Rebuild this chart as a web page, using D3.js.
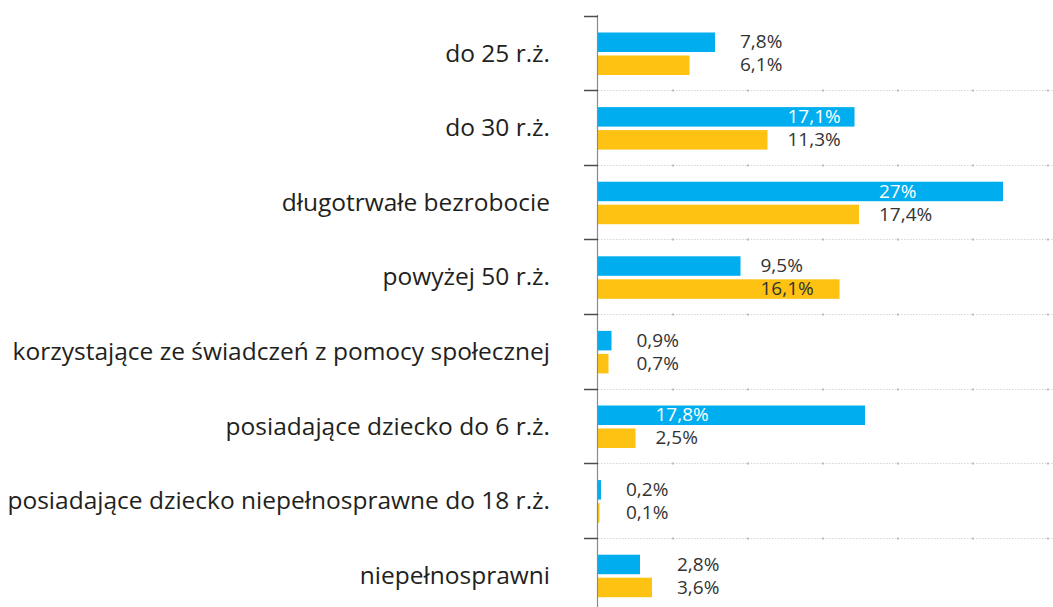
<!DOCTYPE html>
<html lang="pl">
<head>
  <meta charset="UTF-8">
  <title>Grupy bezrobotnych</title>
  <script src="https://d3js.org/d3.v7.min.js"></script>
  <style>
    body { margin: 0; background: #fff; }
    .cat text { font-family: "Open Sans", sans-serif; font-size: 24.5px; fill: #231f20; }
    .val { font-family: "Open Sans", sans-serif; font-size: 19px; }
  </style>
</head>
<body>
  <svg id="svg" width="1053" height="607"></svg>
  <script>
    // dane
    var categories = [
      'do 25 r.ż.',
      'do 30 r.ż.',
      'długotrwałe bezrobocie',
      'powyżej 50 r.ż.',
      'korzystające ze świadczeń z pomocy społecznej',
      'posiadające dziecko do 6 r.ż.',
      'posiadające dziecko niepełnosprawne do 18 r.ż.',
      'niepełnosprawni'
    ]
    var seriesA = [7.8, 17.1, 27, 9.5, 0.9, 17.8, 0.2, 2.8]
    var seriesB = [6.1, 11.3, 17.4, 16.1, 0.7, 2.5, 0.1, 3.6]
    var valueLabels = [
      ['7,8%', '6,1%'], ['17,1%', '11,3%'], ['27%', '17,4%'], ['9,5%', '16,1%'],
      ['0,9%', '0,7%'], ['17,8%', '2,5%'], ['0,2%', '0,1%'], ['2,8%', '3,6%']
    ]
    var colors = ['#00aeef', '#fdc212']

    var svg = d3.select('#svg')
    var axisX = 598

    var x = d3.scaleLinear().domain([0, 30]).range([axisX, axisX + 450])
    var y = d3.scaleBand().domain(categories).range([15.7, 612.5])
    var sub = d3.scaleBand().domain([0, 1]).range([-20.5, 22]).paddingInner(0.152)

    // linie siatki (kropkowane)
    var bounds = categories.slice(1).map(c => y(c)).concat([y.range()[1]])
    svg.append('g').selectAll('line')
      .data(bounds)
      .enter().append('line')
      .attr('x1', axisX).attr('x2', 1053)
      .attr('y1', d => Math.round(d) + 0.5).attr('y2', d => Math.round(d) + 0.5)
      .attr('stroke', '#d4d4d4')
      .attr('stroke-dasharray', '1.5,1.5')

    svg.append('g').selectAll('g')
      .data(bounds)
      .enter().append('g')
      .selectAll('rect')
      .data(d => x.ticks(6).filter(t => t > 0).map(t => [t, d]))
      .enter().append('rect')
      .attr('x', d => x(d[0]) - 1)
      .attr('y', d => Math.round(d[1]) - 0.5)
      .attr('width', 2).attr('height', 2)
      .attr('fill', '#bdbdbd')

    // słupki
    var groups = svg.append('g').selectAll('g')
      .data(categories)
      .enter().append('g')
      .attr('transform', d => 'translate(0,' + (y(d) + y.bandwidth() / 2) + ')')

    groups.each(function (c, i) {
      var g = d3.select(this)
      var vals = [seriesA[i], seriesB[i]]
      g.selectAll('rect')
        .data(vals)
        .enter().append('rect')
        .attr('x', x(0) - 0.5)
        .attr('y', (d, j) => sub(j))
        .attr('width', d => x(d) - x(0) + 0.5)
        .attr('height', sub.bandwidth())
        .attr('fill', (d, j) => colors[j])

      // pozycja etykiet
      var minEnd = x(d3.min(vals)), maxEnd = x(d3.max(vals))
      var start = minEnd + 20
      if (maxEnd - start < 45) start = maxEnd + 25
      var big = vals[0] >= vals[1] ? 0 : 1

      g.selectAll('text')
        .data(vals)
        .enter().append('text')
        .attr('class', 'val')
        .attr('x', start)
        .attr('y', (d, j) => sub(j) + sub.bandwidth() / 2 + 1)
        .attr('dominant-baseline', 'middle')
        .attr('fill', (d, j) => (j === big && x(d) > start + 20 && j === 0) ? '#ffffff' : '#333333')
        .text((d, j) => valueLabels[i][j])
    })

    // oś pionowa
    var yAxis = d3.axisLeft(y).tickSize(0).tickPadding(48)
    var ax = svg.append('g')
      .attr('class', 'cat')
      .attr('transform', 'translate(' + axisX + ',0)')
      .call(yAxis)
    ax.select('.domain').remove()
    ax.selectAll('text').attr('dy', '0.35em')

    svg.append('line')
      .attr('x1', axisX - 0.5).attr('x2', axisX - 0.5)
      .attr('y1', 15).attr('y2', 607)
      .attr('stroke', '#8a8a8a').attr('stroke-width', 1.2)

    svg.append('g').selectAll('line')
      .data([y.range()[0]].concat(bounds))
      .enter().append('line')
      .attr('x1', axisX - 14).attr('x2', axisX)
      .attr('y1', d => Math.round(d) + 0.5).attr('y2', d => Math.round(d) + 0.5)
      .attr('stroke', '#4d4d4d').attr('stroke-width', 1.5)
  </script>
</body>
</html>
